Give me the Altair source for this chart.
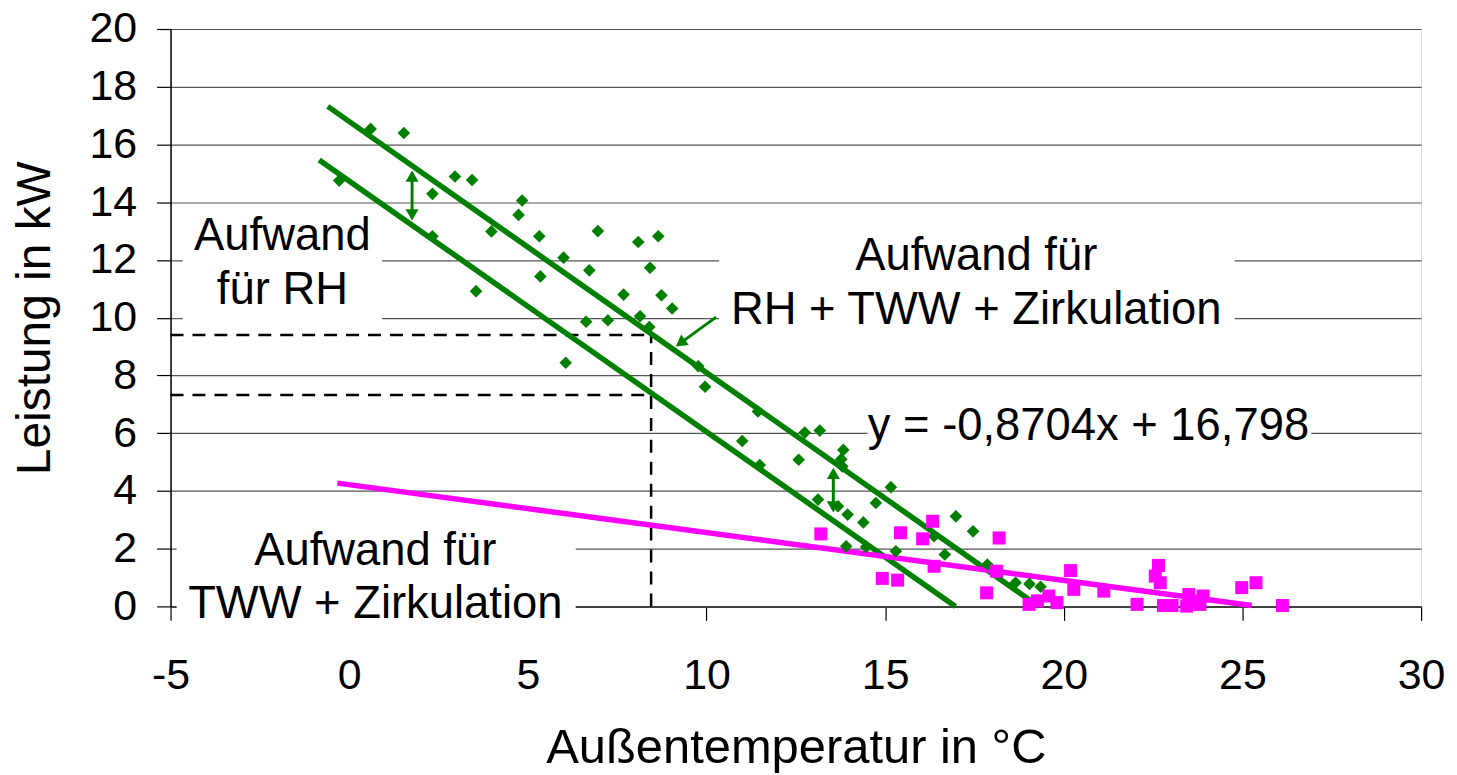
import altair as alt
import pandas as pd

# ---------------- data ----------------
# Gesamtaufwand (RH + TWW + Zirkulation), green diamonds
green_x = [0.60, 1.53, -0.28, 2.96, 3.44, 2.33, 4.84, 4.74, 3.98, 2.33, 5.32, 6.96, 8.09, 8.65,
           6.00, 6.72, 5.35, 8.42, 3.55, 7.68, 8.74, 9.04, 6.63, 7.24, 8.14, 8.40, 6.06, 9.77,
           9.96, 11.44, 12.75, 13.17, 11.00, 13.83, 13.77, 13.80, 12.58, 11.49, 15.16, 14.74,
           13.12, 13.68, 13.95, 14.39, 16.98, 17.46, 16.37, 15.30, 13.91, 14.47, 16.67, 17.86,
           18.65, 19.04, 19.35]
green_y = [16.54, 16.40, 14.75, 14.89, 14.77, 14.29, 14.06, 13.56, 12.99, 12.82, 12.82, 13.00,
           12.62, 12.82, 12.08, 11.64, 11.43, 11.73, 10.92, 10.80, 10.78, 10.32, 9.86, 9.91,
           10.05, 9.68, 8.44, 8.32, 7.61, 6.75, 6.02, 6.09, 5.73, 5.42, 5.10, 4.85, 5.08, 4.90,
           4.13, 3.58, 3.70, 3.47, 3.18, 2.91, 3.12, 2.60, 2.43, 1.91, 2.08, 2.06, 1.80, 1.45,
           0.82, 0.78, 0.68]

# Aufwand für TWW + Zirkulation, magenta squares
mag_x = [13.20, 15.43, 16.05, 16.33, 18.19, 16.37, 14.92, 15.35, 17.84, 18.12, 20.19, 20.28,
         21.12, 22.05, 22.65, 22.56, 22.70, 22.79, 23.03, 23.50, 23.44, 23.81, 23.90, 23.62,
         24.98, 25.38, 26.12, 19.03, 19.58, 19.81, 19.26]
mag_y = [2.51, 2.55, 2.34, 2.95, 2.37, 1.39, 0.97, 0.91, 0.47, 1.22, 1.24, 0.59, 0.53, 0.07,
         1.42, 1.05, 0.82, 0.03, 0.03, 0.41, 0.01, 0.07, 0.36, 0.18, 0.65, 0.82, 0.03, 0.07,
         0.36, 0.13, 0.19]

# trend lines (end points)
line_name = ["gesamt", "rh", "tww"]
line_x0 = [-0.60, -0.84, -0.33]
line_y0 = [17.32, 15.46, 4.27]
line_x1 = [19.30, 16.97, 25.26]
line_y1 = [0.00, 0.00, 0.03]
line_color = ["#008000", "#008000", "#FF00FF"]

# dashed reading lines
dash_x0 = [-5.0, -5.0, 8.45]
dash_y0 = [9.40, 7.32, 0.0]
dash_x1 = [8.45, 8.45, 8.45]
dash_y1 = [9.40, 7.32, 9.40]

# double arrows between the two green lines
darrow_x = [1.76, 13.55]
darrow_top = [15.10, 4.80]
darrow_bot = [13.37, 3.25]

# pointer arrow to the regression line
ptr_x0, ptr_y0, ptr_x1, ptr_y1 = 10.27, 10.02, 9.20, 9.06
ptr_head_x, ptr_head_y, ptr_angle = 9.27, 9.12, 234

# annotation texts with white background boxes
ann_text = [["Aufwand", "für RH"],
            ["Aufwand für", "RH + TWW + Zirkulation"],
            ["y = -0,8704x + 16,798"],
            ["Aufwand für", "TWW + Zirkulation"]]
ann_x = [-1.87, 17.55, 20.69, 0.73]
ann_y = [12.33, 11.64, 5.77, 1.45]
box_x0 = [-4.66, 10.35, 14.51, -4.83]
box_x1 = [0.92, 24.78, 26.93, 6.34]
box_y0 = [9.60, 8.60, 4.50, -0.55]
box_y1 = [13.85, 13.50, 7.30, 2.85]

x_ticks = [-5, 0, 5, 10, 15, 20, 25, 30]
y_ticks = list(range(0, 21, 2))

FONT = "Liberation Sans"
PX_PER_Y = 579 / 20.0

# ---------------- tables ----------------
green = pd.DataFrame({"x": green_x, "y": green_y})
mag = pd.DataFrame({"x": mag_x, "y": mag_y})
lines = pd.DataFrame({
    "name": line_name * 2,
    "x": line_x0 + line_x1,
    "y": line_y0 + line_y1,
    "color": line_color * 2,
})
dashes = pd.DataFrame({"x": dash_x0, "y": dash_y0, "x2": dash_x1, "y2": dash_y1})
boxes = pd.DataFrame({"x": box_x0, "x2": box_x1, "y": box_y0, "y2": box_y1})
texts = pd.DataFrame({"text": ann_text, "x": ann_x, "y": ann_y})

head_size = 170
head_off = (head_size ** 0.5) / 2 * 0.866 / PX_PER_Y
shafts = pd.DataFrame({
    "x": darrow_x + [ptr_x0],
    "x2": darrow_x + [ptr_x1],
    "y": [t - 0.1 for t in darrow_top] + [ptr_y0],
    "y2": [b + 0.1 for b in darrow_bot] + [ptr_y1],
})
heads = pd.DataFrame({
    "x": darrow_x + darrow_x + [ptr_head_x],
    "y": [t - head_off for t in darrow_top] + [b + head_off for b in darrow_bot] + [ptr_head_y],
    "angle": [0] * len(darrow_x) + [180] * len(darrow_x) + [ptr_angle],
})

xs = alt.Scale(domain=[-5, 30], nice=False, zero=False)
ys = alt.Scale(domain=[0, 20], nice=False, zero=False)

x_axis = alt.Axis(values=x_ticks, grid=False, labelExpr="'' + datum.value",
                  labelFlush=False, labelOverlap=False,
                  domainColor="#404040", domainWidth=2, tickColor="#000", tickSize=14,
                  tickWidth=1.2, labelPadding=34, labelFontSize=43, labelFont=FONT,
                  labelColor="#000", title="Außentemperatur in °C", titleFont=FONT,
                  titleFontSize=49, titleFontWeight="normal", titleColor="#000",
                  titleY=157, titleBaseline="alphabetic", zindex=0)
y_axis = alt.Axis(values=y_ticks, grid=True, gridColor="#555", gridWidth=1.2,
                  labelOverlap=False,
                  domainColor="#000", domainWidth=1.5, tickColor="#000", tickSize=14,
                  tickWidth=1.2, labelPadding=20, labelFontSize=43, labelFont=FONT,
                  labelColor="#000", title="Leistung in kW", titleFont=FONT,
                  titleFontSize=48, titleFontWeight="normal", titleColor="#000",
                  titleAngle=-90, titleX=-121, titleAlign="center",
                  titleBaseline="alphabetic", zindex=0)

box_layer = alt.Chart(boxes).mark_rect(fill="white", stroke=None).encode(
    x=alt.X("x:Q", scale=xs, axis=x_axis),
    x2="x2:Q",
    y=alt.Y("y:Q", scale=ys, axis=y_axis),
    y2="y2:Q",
)

dash_layer = alt.Chart(dashes).mark_rule(color="black", strokeWidth=2.5,
                                         strokeDash=[13, 9]).encode(
    x="x:Q", x2="x2:Q", y="y:Q", y2="y2:Q")

line_layer = alt.Chart(lines).mark_line(strokeWidth=5.5, strokeCap="butt").encode(
    x="x:Q", y="y:Q", detail="name:N",
    color=alt.Color("color:N", scale=None))

shaft_layer = alt.Chart(shafts).mark_rule(color="#008000", strokeWidth=3).encode(
    x="x:Q", x2="x2:Q", y="y:Q", y2="y2:Q")

head_layer = alt.Chart(heads).mark_point(shape="triangle-up", filled=True, opacity=1,
                                         color="#008000", size=head_size).encode(
    x="x:Q", y="y:Q", angle=alt.Angle("angle:Q", scale=None))

green_layer = alt.Chart(green).mark_point(shape="diamond", filled=True, opacity=1,
                                          color="#008000", size=160).encode(
    x="x:Q", y="y:Q")

mag_layer = alt.Chart(mag).mark_point(shape="square", filled=True, opacity=1,
                                      color="#FF00FF", size=170).encode(
    x="x:Q", y="y:Q")

text_layer = alt.Chart(texts).mark_text(font=FONT, fontSize=45.5, color="black",
                                        align="center", baseline="alphabetic",
                                        lineHeight=54).encode(
    x="x:Q", y="y:Q", text="text")

chart = alt.layer(
    box_layer, dash_layer, line_layer, shaft_layer, head_layer,
    green_layer, mag_layer, text_layer
).properties(
    width=1254, height=579,
    padding={"left": 163, "top": 20, "right": 28, "bottom": 166},
    autosize=alt.AutoSizeParams(type="none"),
).configure_view(stroke="#808080", strokeWidth=2).configure(background="white")

chart.save("out.html", embed_options={"renderer": "svg", "actions": False})
